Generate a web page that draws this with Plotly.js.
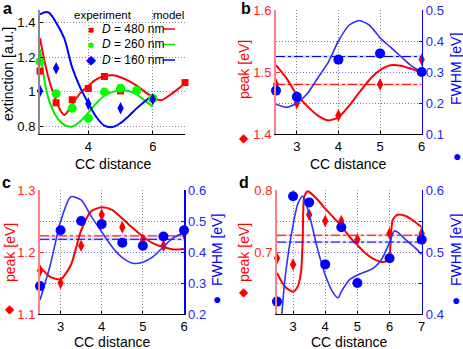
<!DOCTYPE html>
<html>
<head>
<meta charset="utf-8">
<script src="https://cdn.plot.ly/plotly-3.0.1.min.js"></script>
<style>
  body { margin: 0; background: #fff; }
  #graph { width: 463px; height: 349px; }
</style>
</head>
<body>
<div id="graph"></div>
<script>
// ---- panel a : extinction vs CC distance ----
var a480X = [2.5, 3, 3.5, 4, 4.5, 5, 6, 7];
var a480Y = [1.12, 0.937, 0.955, 1.02, 1.089, 1.006, 0.962, 1.054];
var a260X = [2.5, 3, 3.5, 4, 4.5, 5, 5.5, 6];
var a260Y = [1.175, 0.99, 0.905, 0.848, 1.0, 1.021, 1.008, 0.963];
var a160X = [2.5, 3, 4, 5, 6];
var a160Y = [1.006, 1.137, 0.931, 0.906, 0.958];

var aModelX = [2.5, 2.75, 3, 3.25, 3.5, 3.75, 4, 4.25, 4.5, 4.75, 5, 5.25, 5.5, 5.75, 6, 6.25, 6.5, 6.75, 7];
var aModel480 = [1.31, 1.09, 0.95, 0.867, 0.93, 0.993, 1.035, 1.073, 1.092, 1.096, 1.085, 1.064, 1.036, 1.002, 0.97, 0.952, 0.978, 1.012, 1.05];
var aModel260 = [1.246, 0.97, 0.86, 0.81, 0.80, 0.83, 0.88, 0.935, 0.978, 1.0, 1.01, 1.005, 0.985, 0.95, 0.915];
var aModel160 = [1.448, 1.46, 1.40, 1.31, 1.14, 1.025, 0.935, 0.855, 0.805, 0.797, 0.82, 0.86, 0.905, 0.945, 0.98];

// ---- panel b ----
var bX = [2.5, 3, 4, 5, 6];
var bPeak = [1.48, 1.45, 1.43, 1.48, 1.52];
var bFwhm = [0.24, 0.22, 0.34, 0.36, 0.30];
var bModelX = [2.5, 2.75, 3, 3.25, 3.5, 3.75, 4, 4.25, 4.5, 4.75, 5, 5.25, 5.5, 5.75, 6];
var bModelPeak = [1.511, 1.49, 1.463, 1.445, 1.43, 1.422, 1.427, 1.445, 1.467, 1.488, 1.503, 1.511, 1.51, 1.505, 1.499];
var bModelFwhm = [0.196, 0.186, 0.20, 0.23, 0.28, 0.33, 0.40, 0.45, 0.466, 0.45, 0.41, 0.38, 0.35, 0.32, 0.30];
var bPeakRef = 1.48, bFwhmRef = 0.35;

// ---- panel c ----
var cX = [2.5, 3, 3.5, 4, 4.5, 5, 5.5, 6];
var cPeak = [1.17, 1.15, 1.21, 1.26, 1.24, 1.22, 1.21, 1.23];
var cFwhm = [0.29, 0.47, 0.50, 0.49, 0.43, 0.42, 0.45, 0.47];
var cModelX = [2.5, 2.75, 3, 3.25, 3.5, 3.75, 4, 4.25, 4.5, 4.75, 5, 5.25, 5.5, 5.75, 6];
var cModelPeak = [1.176, 1.16, 1.156, 1.179, 1.235, 1.266, 1.272, 1.268, 1.254, 1.239, 1.225, 1.214, 1.208, 1.204, 1.205];
var cModelFwhm = [0.245, 0.358, 0.498, 0.578, 0.568, 0.514, 0.465, 0.417, 0.382, 0.364, 0.367, 0.385, 0.417, 0.447, 0.462];
var cPeakRef = 1.226, cFwhmRef = 0.441;

// ---- panel d ----
var dX = [2.5, 3, 3.5, 4, 4.5, 5, 6, 7];
var dPeak = [0.69, 0.68, 0.76, 0.75, 0.75, 0.72, 0.73, 0.73];
var dFwhm = [0.42, 0.59, 0.58, 0.48, 0.54, 0.45, 0.49, 0.52];
var dPeakModelX = [2.5, 2.75, 3, 3.15, 3.25, 3.3, 3.35, 3.45, 3.5, 3.75, 4, 4.25, 4.5, 4.75, 5, 5.25, 5.5, 5.75, 5.92, 6, 6.05, 6.1, 6.25, 6.5, 6.75, 7];
var dModelPeak = [0.666, 0.644, 0.636, 0.645, 0.669, 0.72, 0.79, 0.798, 0.797, 0.785, 0.77, 0.756, 0.742, 0.725, 0.711, 0.698, 0.689, 0.684, 0.686, 0.696, 0.73, 0.752, 0.76, 0.758, 0.75, 0.74];
var dFwhmModelX = [2.55, 2.65, 2.75, 3, 3.15, 3.3, 3.5, 3.75, 4, 4.25, 4.4, 4.5, 4.75, 5, 5.25, 5.5, 5.75, 6, 6.15, 6.25, 6.5, 6.75, 7];
var dModelFwhm = [0.33, 0.40, 0.458, 0.544, 0.578, 0.59, 0.561, 0.507, 0.463, 0.434, 0.426, 0.436, 0.455, 0.463, 0.468, 0.474, 0.488, 0.515, 0.534, 0.532, 0.52, 0.509, 0.496];
var dPeakRef = 0.727, dFwhmRef = 0.516;

var RED = '#ff0000', BLUE = '#0000ff', GREEN = '#00ee00';
var W = 463, H = 349;
var FONT = 'Liberation Sans, Arial, Helvetica, sans-serif';
var GRID = '#8a8a8a', BGRID = 'rgba(70,70,255,0.8)', GDASH = '1px,2px';

// px -> paper helpers
function px(x) { return x / W; }
function py(y) { return 1 - y / H; }

function xAxis(dom, range, ticks, anchor) {
    return {
        domain: dom, range: range, anchor: anchor, tickvals: ticks,
        showline: true, linecolor: '#000', linewidth: 1,
        ticks: 'inside', ticklen: 3, tickcolor: '#000',
        showgrid: true, gridcolor: GRID, griddash: GDASH, gridwidth: 1,
        zeroline: false, fixedrange: true,
        tickfont: {size: 13, color: '#000'}
    };
}

function yAxis(dom, range, ticks, text, anchor, color, lineColor, grid) {
    return {
        domain: dom, range: range, anchor: anchor, tickvals: ticks, ticktext: text,
        showline: true, linecolor: lineColor, linewidth: 2,
        ticks: 'inside', ticklen: 3, tickcolor: color,
        showgrid: grid, gridcolor: GRID, griddash: GDASH, gridwidth: 1,
        zeroline: false, fixedrange: true,
        tickfont: {size: 13, color: color}
    };
}

function rAxis(range, ticks, text, over, anchor) {
    return {
        overlaying: over, side: 'right', anchor: anchor, range: range,
        tickvals: ticks, ticktext: text,
        showline: true, linecolor: BLUE, linewidth: 1.5,
        ticks: 'inside', ticklen: 3, tickcolor: BLUE,
        showgrid: true, gridcolor: BGRID, griddash: GDASH, gridwidth: 1,
        zeroline: false, fixedrange: true,
        tickfont: {size: 13, color: '#2222ff'}
    };
}

var data = [];

// panel a traces
data.push({x: aModelX, y: aModel480, xaxis: 'x', yaxis: 'y', mode: 'lines', line: {color: RED, width: 2, shape: 'spline'}});
data.push({x: aModelX.slice(0, aModel260.length), y: aModel260, xaxis: 'x', yaxis: 'y', mode: 'lines', line: {color: GREEN, width: 2, shape: 'spline'}});
data.push({x: aModelX.slice(0, aModel160.length), y: aModel160, xaxis: 'x', yaxis: 'y', mode: 'lines', line: {color: BLUE, width: 2, shape: 'spline'}});
data.push({x: a480X, y: a480Y, xaxis: 'x', yaxis: 'y', mode: 'markers', marker: {symbol: 'square', size: 7, color: RED}, cliponaxis: false});
data.push({x: a260X, y: a260Y, xaxis: 'x', yaxis: 'y', mode: 'markers', marker: {symbol: 'circle', size: 9, color: '#00ff00'}, cliponaxis: false});
data.push({x: a160X, y: a160Y, xaxis: 'x', yaxis: 'y', mode: 'markers', marker: {symbol: 'diamond-tall', size: 9, color: BLUE}, cliponaxis: false});

// panels b, c, d share the same trace layout
function dualPanel(xa, yl, yr, xr, peakRef, fwhmRef, mPX, mP, mFX, mF, ex, ep, ef) {
    data.push({x: xr, y: [peakRef, peakRef], xaxis: xa, yaxis: yl, mode: 'lines', line: {color: 'rgba(255,90,90,0.25)', width: 2.5}});
    data.push({x: xr, y: [peakRef, peakRef], xaxis: xa, yaxis: yl, mode: 'lines', line: {color: RED, width: 1, dash: 'dashdot'}});
    data.push({x: xr, y: [fwhmRef, fwhmRef], xaxis: xa, yaxis: yr, mode: 'lines', line: {color: 'rgba(90,90,255,0.25)', width: 2.5}});
    data.push({x: xr, y: [fwhmRef, fwhmRef], xaxis: xa, yaxis: yr, mode: 'lines', line: {color: BLUE, width: 1, dash: 'dashdot'}});
    data.push({x: mPX, y: mP, xaxis: xa, yaxis: yl, mode: 'lines', line: {color: RED, width: 2, shape: 'spline', smoothing: 0.7}});
    data.push({x: mFX, y: mF, xaxis: xa, yaxis: yr, mode: 'lines', line: {color: '#3030ff', width: 1.6, shape: 'spline', smoothing: 0.7}});
    data.push({x: ex, y: ep, xaxis: xa, yaxis: yl, mode: 'markers', marker: {symbol: 'diamond-tall', size: 9, color: RED}, cliponaxis: false});
    data.push({x: ex, y: ef, xaxis: xa, yaxis: yr, mode: 'markers', marker: {symbol: 'circle', size: 10, color: BLUE}, cliponaxis: false});
}

dualPanel('x2', 'y2', 'y3', [2.5, 6], bPeakRef, bFwhmRef, bModelX, bModelPeak, bModelX, bModelFwhm, bX, bPeak, bFwhm);
dualPanel('x3', 'y4', 'y5', [2.5, 6], cPeakRef, cFwhmRef, cModelX, cModelPeak, cModelX, cModelFwhm, cX, cPeak, cFwhm);
dualPanel('x4', 'y6', 'y7', [2.5, 7], dPeakRef, dFwhmRef, dPeakModelX, dModelPeak, dFwhmModelX, dModelFwhm, dX, dPeak, dFwhm);

var domA = [px(40), px(185)], domB = [px(276), px(421.7)];
var domC = [px(40), px(184)], domD = [px(277), px(421.7)];
var topY = [py(134), py(10)], botY = [py(314), py(190)];

var layout = {
    width: W, height: H,
    margin: {l: 0, r: 0, t: 0, b: 0},
    showlegend: false,
    paper_bgcolor: '#fff', plot_bgcolor: 'rgba(0,0,0,0)',
    font: {family: FONT, size: 13, color: '#000'},
    xaxis: xAxis(domA, [2.5, 7], [4, 6], 'y'),
    yaxis: yAxis(topY, [0.757, 1.473], [0.8, 1, 1.2, 1.4], ['0.8', '1', '1.2', '1.4'], 'x', '#000', '#888', true),
    xaxis2: xAxis(domB, [2.5, 6], [3, 4, 5, 6], 'y2'),
    yaxis2: yAxis(topY, [1.4, 1.6], [1.4, 1.5, 1.6], ['1.4', '1.5', '1.6'], 'x2', '#ff2222', '#ff8080', false),
    yaxis3: rAxis([0.1, 0.5], [0.1, 0.2, 0.3, 0.4, 0.5], ['0.1', '0.2', '0.3', '0.4', '0.5'], 'y2', 'x2'),
    xaxis3: xAxis(domC, [2.5, 6], [3, 4, 5, 6], 'y4'),
    yaxis4: yAxis(botY, [1.1, 1.3], [1.1, 1.2, 1.3], ['1.1', '1.2', '1.3'], 'x3', '#ff2222', '#ff8080', false),
    yaxis5: rAxis([0.2, 0.6], [0.2, 0.3, 0.4, 0.5, 0.6], ['0.2', '0.3', '0.4', '0.5', '0.6'], 'y4', 'x3'),
    xaxis4: xAxis(domD, [2.5, 7], [3, 4, 5, 6, 7], 'y6'),
    yaxis6: yAxis(botY, [0.6, 0.8], [0.6, 0.7, 0.8], ['', '0.7', '0.8'], 'x4', '#ff2222', '#ff8080', false),
    yaxis7: rAxis([0.4, 0.6], [0.4, 0.45, 0.5, 0.55, 0.6], ['0.4', '', '0.5', '', '0.6'], 'y6', 'x4'),
    annotations: [],
    shapes: []
};

function ann(text, x, y, o) {
    o = o || {};
    layout.annotations.push({
        text: text, xref: 'paper', yref: 'paper', x: px(x), y: py(y),
        xanchor: o.xa || 'center', yanchor: 'middle', showarrow: false,
        textangle: o.angle || 0,
        font: {family: FONT, size: o.size || 13, color: o.color || '#000'}
    });
}

// panel letters
ann('<b>a</b>', 7, 9, {size: 16});
ann('<b>b</b>', 246, 9, {size: 16});
ann('<b>c</b>', 6, 183, {size: 16});
ann('<b>d</b>', 244, 183, {size: 16});

// axis titles
ann('CC distance', 112.5, 164, {size: 14});
ann('CC distance', 348, 164, {size: 14});
ann('CC distance', 112, 342, {size: 14});
ann('CC distance', 349, 342, {size: 14});
ann('extinction [a.u.]', 8, 74, {angle: -90, size: 14});

ann('peak [eV]', 244, 70, {angle: -90, color: RED, size: 14});
ann('\u25C6', 244, 138, {color: RED, size: 12});
ann('FWHM [eV]', 456, 69, {angle: -90, color: BLUE, size: 14});
ann('\u25CF', 457, 156, {color: BLUE, size: 14});

ann('peak [eV]', 10, 253, {angle: -90, color: RED, size: 14});
ann('\u25C6', 10, 309, {color: RED, size: 12});
ann('FWHM [eV]', 217, 250, {angle: -90, color: BLUE, size: 14});
ann('\u25CF', 217, 299, {color: BLUE, size: 14});

ann('peak [eV]', 244, 253, {angle: -90, color: RED, size: 14});
ann('\u25C6', 244, 292, {color: RED, size: 12});
ann('FWHM [eV]', 456, 250, {angle: -90, color: BLUE, size: 14});
ann('\u25CF', 456, 300, {color: BLUE, size: 14});

// legend of panel a (experiment marker / label / model line)
ann('experiment', 103, 14.5, {size: 11.5});
ann('model', 168, 14.5, {size: 11.5});
var legNames = ['480', '260', '160'];
var legColors = [RED, '#00ff00', BLUE];
var legLine = [RED, GREEN, BLUE];
var legSym = ['\u25A0', '\u25CF', '\u25C6'];
var legRowY = [29, 44.5, 60];
for (var i = 0; i < 3; i++) {
    ann(legSym[i], 91, legRowY[i], {color: legColors[i], size: i == 0 ? 10 : 13});
    ann('<i>D</i> = ' + legNames[i] + ' nm', 100, legRowY[i], {xa: 'left', size: 12});
    layout.shapes.push({type: 'line', xref: 'paper', yref: 'paper',
        x0: px(163), x1: px(175), y0: py(legRowY[i]), y1: py(legRowY[i]),
        line: {color: legLine[i], width: 1.5}});
}

Plotly.newPlot('graph', data, layout, {staticPlot: true, displayModeBar: false});
</script>
</body>
</html>
